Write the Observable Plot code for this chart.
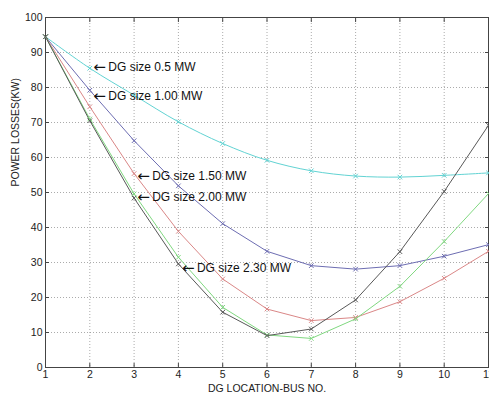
<!DOCTYPE html>
<html>
<head>
<meta charset="utf-8">
<script src="https://cdn.jsdelivr.net/npm/d3@7"></script>
<script src="https://cdn.jsdelivr.net/npm/@observablehq/plot@0.6"></script>
<style>
  html, body { margin: 0; padding: 0; background: #fff; overflow: hidden; }
  #chart svg { display: block; font-family: Arial, "Liberation Sans", sans-serif; }
</style>
</head>
<body>
<div id="chart"></div>
<script>
const buses = [1, 2, 3, 4, 5, 6, 7, 8, 9, 10, 11];
const loss05 = [94.5, 85.5, 77.8, 70.2, 64.0, 59.2, 56.2, 54.7, 54.4, 54.9, 55.6];
const loss100 = [94.5, 79.2, 64.8, 51.9, 41.1, 33.2, 29.1, 28.1, 29.1, 31.8, 35.1];
const loss150 = [94.5, 74.5, 55.4, 38.9, 25.3, 16.7, 13.4, 14.3, 18.8, 25.5, 33.2];
const loss200 = [94.5, 71.0, 49.6, 31.5, 17.2, 9.3, 8.3, 13.9, 23.2, 36.0, 49.7];
const loss230 = [94.5, 70.5, 48.4, 29.6, 15.8, 9.1, 11.0, 19.3, 33.1, 50.3, 69.2];

const seriesNames = ["0.5", "1.00", "1.50", "2.00", "2.30"];
const seriesColors = ["#62d3d3", "#6d6db2", "#da8787", "#80d880", "#585858"];
const seriesValues = [loss05, loss100, loss150, loss200, loss230];

const labelArrow = "\u2190";
const labelTexts = ["DG size 0.5 MW", "DG size 1.00 MW", "DG size 1.50 MW", "DG size 2.00 MW", "DG size 2.30 MW"];
const labelX = [2.08, 2.08, 3.07, 3.07, 4.08];
const labelY = [85.7, 77.6, 54.7, 48.7, 28.5];

const xTicks = [1, 2, 3, 4, 5, 6, 7, 8, 9, 10, 11];
const yTicks = [0, 10, 20, 30, 40, 50, 60, 70, 80, 90, 100];

const rows = [];
seriesValues.forEach((vals, i) => {
  vals.forEach((v, j) => rows.push({series: seriesNames[i], bus: buses[j], loss: v}));
});
const labels = labelTexts.map((t, i) => ({text: t, arrow: labelArrow, x: labelX[i], y: labelY[i]}));

const lineMarks = seriesNames.map((s, i) =>
  Plot.line(rows.filter(d => d.series === s), {
    x: "bus", y: "loss", stroke: seriesColors[i], strokeWidth: 1,
    curve: i === 0 ? "catmull-rom" : "linear"
  })
);
const dotMarks = seriesNames.map((s, i) =>
  Plot.dot(rows.filter(d => d.series === s), {
    x: "bus", y: "loss", stroke: seriesColors[i], symbol: "times", r: 2.2, strokeWidth: 1
  })
);

const chart = Plot.plot({
  width: 489,
  height: 396,
  marginLeft: 45,
  marginRight: 1,
  marginTop: 17,
  marginBottom: 29,
  style: {fontFamily: "Arial, 'Liberation Sans', sans-serif", fontSize: "10.5px", color: "#222", background: "#fff", overflow: "visible"},
  x: {domain: [1, 11], ticks: xTicks},
  y: {domain: [0, 100], ticks: yTicks},
  marks: [
    Plot.gridX(xTicks, {stroke: "#888", strokeOpacity: 0.7, strokeDasharray: "1,2"}),
    Plot.gridY(yTicks, {stroke: "#888", strokeOpacity: 0.7, strokeDasharray: "1,2"}),
    Plot.axisX(xTicks, {anchor: "bottom", tickSize: -4, tickPadding: 7, stroke: "#444", fill: "#222", fontSize: 10.5, label: null}),
    Plot.axisX(xTicks, {anchor: "top", tickSize: -4, stroke: "#444", tickFormat: () => "", label: null}),
    Plot.axisY(yTicks, {anchor: "left", tickSize: -4, tickPadding: 7, stroke: "#444", fill: "#222", fontSize: 10.5, label: null}),
    Plot.axisY(yTicks, {anchor: "right", tickSize: -4, stroke: "#444", tickFormat: () => "", label: null}),
    Plot.frame({stroke: "#444"}),
    ...lineMarks,
    ...dotMarks,
    Plot.text(labels, {x: "x", y: "y", text: "arrow", textAnchor: "start", fontSize: 15, fontFamily: "DejaVu Sans", fill: "#111"}),
    Plot.text(labels, {x: "x", y: "y", text: "text", textAnchor: "start", dx: 15, fontSize: 12, fill: "#111"}),
    Plot.text(["DG LOCATION-BUS NO."], {frameAnchor: "bottom", dy: 24, fontSize: 10.5, fill: "#222"}),
    Plot.text(["POWER LOSSES(KW)"], {frameAnchor: "left", dx: -30, dy: -6, rotate: -90, fontSize: 10.5, fill: "#222"})
  ]
});
document.getElementById("chart").appendChild(chart);
</script>
</body>
</html>
